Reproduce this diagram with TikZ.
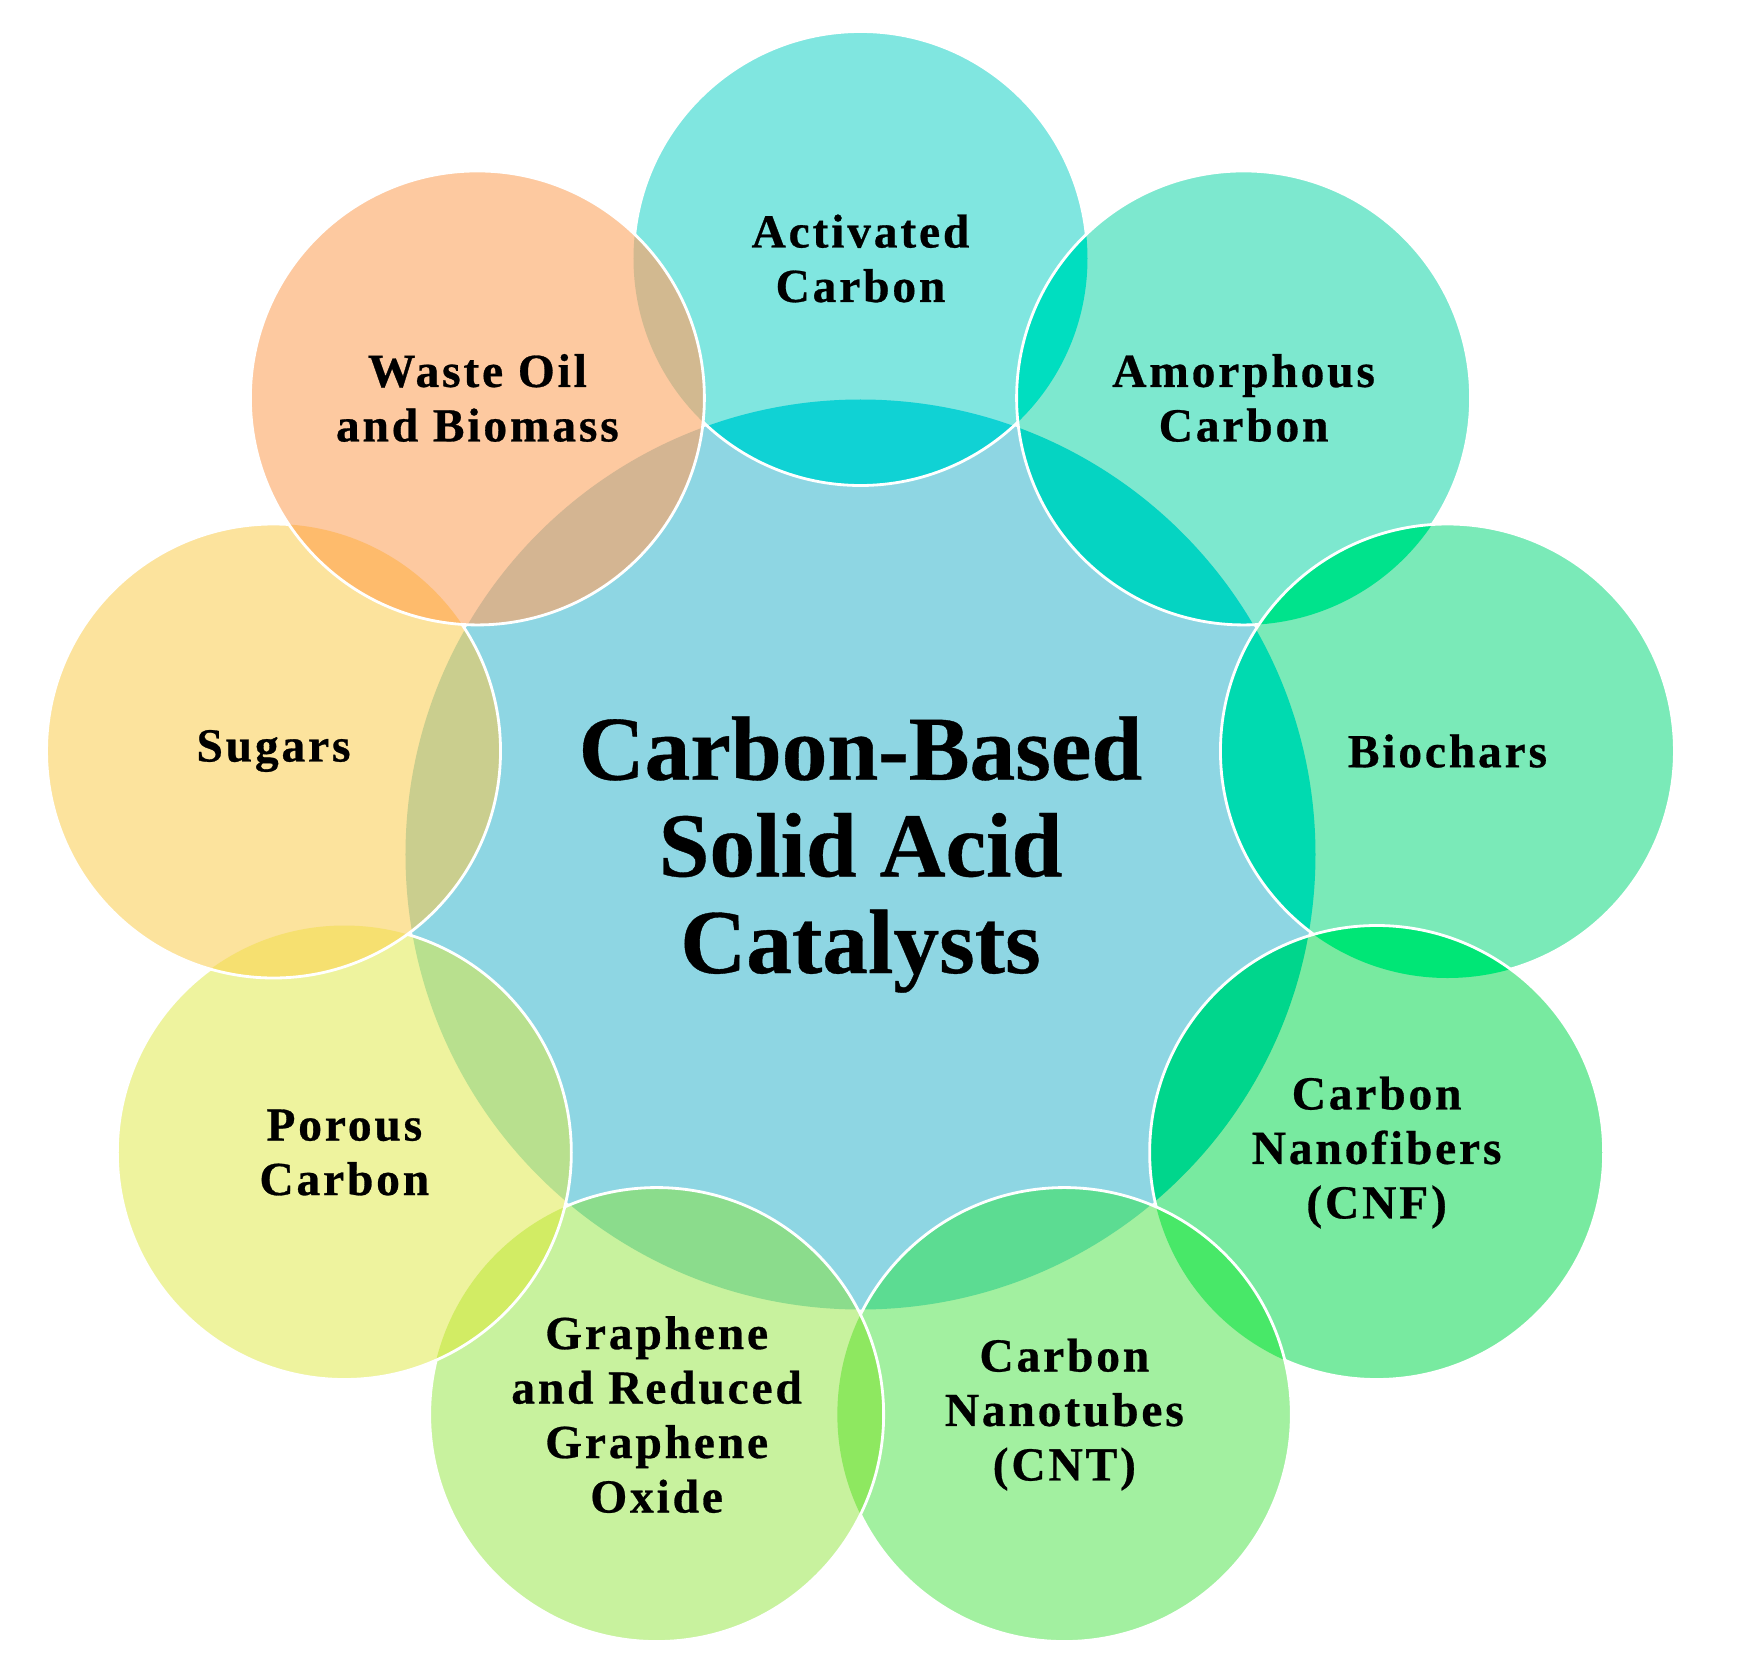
\documentclass[tikz,border=0pt]{standalone}
\usepackage{fontspec}
\setmainfont{Liberation Serif}[BoldFeatures={FakeBold=0.4}]
\newfontfamily\lblfont[LetterSpace=6, BoldFeatures={FakeBold=0.6}]{Liberation Serif}

% цвета кругов
\definecolor{cenfill}{HTML}{8ED6E3}
\definecolor{o1}{HTML}{80E6E0}
\definecolor{o2}{HTML}{7DE8CF}
\definecolor{o3}{HTML}{7AEAB8}
\definecolor{o4}{HTML}{78EAA0}
\definecolor{o5}{HTML}{A2F0A0}
\definecolor{o6}{HTML}{C8F29E}
\definecolor{o7}{HTML}{EEF39E}
\definecolor{o8}{HTML}{FCE39D}
\definecolor{o9}{HTML}{FDC9A0}
% пересечения с центром
\definecolor{k1}{HTML}{10D2D4}
\definecolor{k2}{HTML}{05D4C2}
\definecolor{k3}{HTML}{00DAB0}
\definecolor{k4}{HTML}{00D68C}
\definecolor{k5}{HTML}{5CDC92}
\definecolor{k6}{HTML}{8BDC8C}
\definecolor{k7}{HTML}{B8E08E}
\definecolor{k8}{HTML}{CACE8E}
\definecolor{k9}{HTML}{D4B592}
% пересечения соседних кругов
\definecolor{p1}{HTML}{D2B990}
\definecolor{p2}{HTML}{00DEC0}
\definecolor{p3}{HTML}{00E38C}
\definecolor{p4}{HTML}{00E676}
\definecolor{p5}{HTML}{48E868}
\definecolor{p6}{HTML}{8EE860}
\definecolor{p7}{HTML}{D2EC64}
\definecolor{p8}{HTML}{F6E070}
\definecolor{p9}{HTML}{FEBB6C}

\newcommand{\rr}{227}
\newcommand{\rc}{455}

\tikzset{
  rim/.style={draw=white, line width=1.6pt},
  lbl/.style={align=center, inner sep=0pt,
    font=\lblfont\bfseries\fontsize{27}{31}\selectfont},
  title/.style={align=center, inner sep=0pt,
    font=\bfseries\fontsize{52}{55}\selectfont}
}

\begin{document}
\begin{tikzpicture}[x=0.2mm, y=0.2mm]
    \useasboundingbox (-860.5,-821.5) rectangle (879.5,854.5);

    % Центральный круг
    \fill[cenfill] (0,0) circle (\rc);

    % Центры внешних кругов
    \foreach \i/\ang in {1/90,2/50,3/10,4/-30,5/-70,6/-110,7/-150,8/170,9/130}
        \coordinate (c\i) at (\ang:596);

    % Внешние круги и их пересечения
    \foreach \i/\j in {1/1,2/1,3/2,4/3,5/4,6/5,7/6,8/7,9/8} {
        \fill[o\i] (c\i) circle (\rr);
        \begin{scope}
            \clip (c\i) circle (\rr);
            \fill[k\i] (0,0) circle (\rc);
            \ifnum\i>1 \fill[p\i] (c\j) circle (\rr); \fi
            \ifnum\i=9 \fill[p1] (c1) circle (\rr); \fi
        \end{scope}
        \draw[rim] (c\i) circle (\rr);
    }

    % Подписи
    \node[title] (cat) at (0,0) {Carbon-Based\\Solid Acid\\Catalysts};
    \node[lbl] (act) at (c1) {Activated\\Carbon};
    \node[lbl] (amo) at (c2) {Amorphous\\Carbon};
    \node[lbl] (bio) at (c3) {Biochars};
    \node[lbl] (cnf) at (c4) {Carbon\\Nanofibers\\(CNF)};
    \node[lbl] (cnt) at (c5) {Carbon\\Nanotubes\\(CNT)};
    \node[lbl] (gra) at (c6) {Graphene\\and Reduced\\Graphene\\Oxide};
    \node[lbl] (por) at (c7) {Porous\\Carbon};
    \node[lbl] (sug) at (c8) {Sugars};
    \node[lbl] (wst) at (c9) {Waste Oil\\and Biomass};
\end{tikzpicture}
\end{document}
